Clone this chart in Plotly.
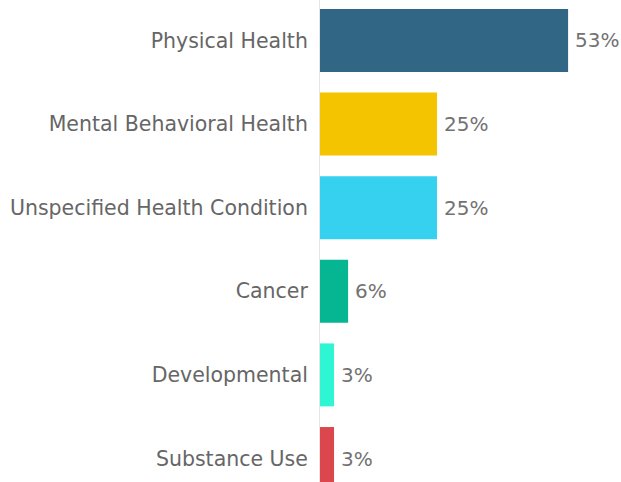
import plotly.graph_objects as go

categories = ["Physical Health", "Mental Behavioral Health", "Unspecified Health Condition",
              "Cancer", "Developmental", "Substance Use"]
values = [53, 25, 25, 6, 3, 3]
labels = ["53%", "25%", "25%", "6%", "3%", "3%"]
colors = ["#316785", "#F5C400", "#36D1EE", "#06B592", "#2EF5D2", "#DC474D"]

FONT = "DejaVu Sans"

fig = go.Figure(go.Bar(
    y=categories, x=values, orientation="h",
    marker=dict(color=colors, line=dict(width=0)),
    text=["\u2009" + t for t in labels], textposition="outside", cliponaxis=False,
    textfont=dict(family=FONT, size=20, color="#727272"),
    hoverinfo="skip",
))
fig.update_layout(
    width=621, height=482,
    margin=dict(l=320, r=0, t=0, b=0),
    paper_bgcolor="white", plot_bgcolor="white",
    bargap=0.247, showlegend=False,
)
fig.update_xaxes(range=[0, 64.3], showgrid=False, zeroline=False, showticklabels=False,
                 showline=False)
fig.update_yaxes(type="category", range=[5.281, -0.484], showgrid=False,
                 showline=True, linecolor="#e6e6e6", linewidth=1, ticks="",
                 ticklabelstandoff=7,
                 tickfont=dict(family=FONT, size=20.5, color="#666666"))
fig.write_html("out.html", config={"displayModeBar": False},
               post_script="document.body.style.margin='0';document.body.style.overflow='hidden';")
